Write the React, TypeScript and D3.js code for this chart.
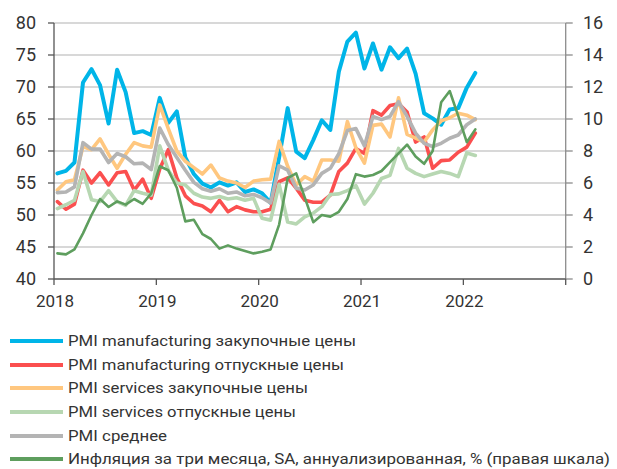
import React from "react";
import * as d3 from "d3";

const mfgInput = [56.5, 56.9, 58.2, 70.7, 72.8, 70.3, 64.3, 72.7, 69.2, 62.8, 63.1, 62.5, 68.3, 64.4, 66.2, 59.0, 56.4, 54.9, 54.3, 55.1, 54.6, 55.1, 53.6, 54.0, 53.4, 51.9, 59.0, 66.7, 59.9, 58.9, 61.7, 64.8, 63.3, 72.4, 77.1, 78.5, 72.9, 76.8, 72.7, 76.2, 74.5, 76.0, 72.1, 65.9, 65.1, 64.1, 66.5, 66.7, 69.9, 72.2];
const mfgOutput = [52.1, 50.9, 51.7, 57.0, 55.0, 56.6, 54.7, 56.6, 56.8, 53.9, 55.6, 52.6, 57.2, 60.2, 55.8, 53.0, 51.8, 51.4, 50.5, 52.3, 50.5, 51.3, 50.8, 50.5, 50.5, 50.9, 55.2, 55.8, 54.2, 52.3, 52.0, 52.0, 53.1, 56.8, 58.1, 60.4, 59.6, 66.3, 65.6, 67.1, 67.4, 66.1, 61.4, 62.2, 57.3, 58.5, 58.6, 59.8, 60.6, 62.8];
const svcInput = [53.9, 55.2, 55.5, 60.7, 60.2, 61.9, 59.5, 57.3, 59.5, 61.3, 60.8, 60.6, 67.2, 63.5, 60.0, 58.4, 57.4, 56.4, 57.8, 55.8, 55.3, 55.0, 54.3, 55.3, 55.5, 55.6, 61.5, 57.6, 54.7, 56.0, 55.3, 58.6, 58.6, 58.4, 64.6, 60.5, 58.1, 64.0, 64.2, 62.2, 68.3, 62.6, 62.0, 61.4, 63.3, 64.7, 65.2, 65.9, 65.6, 64.9];
const svcOutput = [51.0, 51.6, 52.3, 56.8, 52.4, 52.1, 53.8, 52.1, 51.5, 53.8, 53.4, 53.1, 60.8, 57.0, 55.0, 54.7, 53.4, 52.8, 52.6, 52.9, 52.5, 52.7, 52.3, 52.6, 49.5, 49.2, 54.8, 48.9, 48.6, 49.7, 50.3, 51.3, 53.2, 53.3, 53.8, 54.6, 51.7, 53.4, 55.7, 56.2, 60.4, 57.3, 56.5, 56.0, 56.4, 56.8, 56.5, 56.0, 59.7, 59.3];
const pmiAvg = [53.5, 53.6, 54.4, 61.3, 60.3, 60.3, 58.2, 59.6, 59.1, 58.0, 58.1, 57.1, 63.6, 61.0, 59.0, 57.0, 55.1, 54.1, 53.7, 54.1, 53.4, 53.6, 53.0, 53.2, 52.7, 51.9, 57.7, 57.0, 54.2, 53.9, 54.7, 56.5, 57.3, 59.6, 63.2, 63.5, 60.8, 65.4, 64.9, 65.4, 67.7, 65.4, 62.8, 61.2, 60.7, 61.2, 62.0, 62.5, 64.1, 65.0];
const inflation = [1.6, 1.54, 1.85, 2.85, 4.0, 5.0, 4.5, 4.85, 4.65, 5.0, 4.7, 5.35, 7.05, 6.8, 5.7, 3.6, 3.7, 2.8, 2.5, 1.9, 2.1, 1.9, 1.75, 1.6, 1.7, 1.85, 3.4, 6.3, 6.6, 5.1, 3.55, 4.0, 3.9, 4.2, 5.0, 6.55, 6.4, 6.5, 6.75, 7.3, 7.85, 8.4, 7.65, 7.2, 8.0, 11.05, 11.75, 10.2, 8.55, 9.35];

const startYear = 2018;
const yearTicks = [2018, 2019, 2020, 2021, 2022, 2023];
const yearLabels = ["2018", "2019", "2020", "2021", "2022"];
const leftTicks = [40, 45, 50, 55, 60, 65, 70, 75, 80];
const rightTicks = [0, 2, 4, 6, 8, 10, 12, 14, 16];

const seriesNames = [
  "PMI manufacturing закупочные цены",
  "PMI manufacturing отпускные цены",
  "PMI services закупочные цены",
  "PMI services отпускные цены",
  "PMI среднее",
  "Инфляция за три месяца, SA, аннуализированная, % (правая шкала)",
];

const FONT = "Roboto, 'Noto Sans', sans-serif";

export default function App() {
  const W = 617, H = 469;
  const x0 = 54, x1 = 565.7, yTop = 23, yBot = 279;
  const x = d3.scaleLinear().domain([2018, 2023]).range([x0, x1]);
  const yL = d3.scaleLinear().domain([40, 80]).range([yBot, yTop]);
  const yR = d3.scaleLinear().domain([0, 16]).range([yBot, yTop]);
  const t = (i: number) => startYear + (i + 0.4) / 12;

  const lineL = d3.line<number>().x((_, i) => x(t(i))).y((d) => yL(d));
  const lineR = d3.line<number>().x((_, i) => x(t(i))).y((d) => yR(d));

  const series = [
    { data: mfgInput, color: "#00b5e8", w: 4, gen: lineL },
    { data: mfgOutput, color: "#fb4f4f", w: 3.6, gen: lineL },
    { data: svcInput, color: "#ffc77f", w: 3.6, gen: lineL },
    { data: svcOutput, color: "#b7d7b2", w: 3.6, gen: lineL },
    { data: pmiAvg, color: "#b4b4b4", w: 3.6, gen: lineL },
    { data: inflation, color: "#5e9e5e", w: 2.6, gen: lineR },
  ];

  const legendY = [341, 365, 388, 412, 436, 459];
  const legendW = [288, 276, 240, 228, 99, 542];

  return (
    <svg width={W} height={H} style={{ position: "absolute", left: 0, top: 0, background: "#fff" }} fontFamily={FONT}>
      {leftTicks.filter((v) => v > 40).map((v) => (
        <line key={"g" + v} x1={x0} x2={x1} y1={yL(v)} y2={yL(v)} stroke="#cbcbcb" strokeWidth={1.5} />
      ))}
      {series.map((s, k) => (
        <path key={k} d={s.gen(s.data) || ""} fill="none" stroke={s.color} strokeWidth={s.w} strokeLinejoin="round" strokeLinecap="round" />
      ))}
      <line x1={x0} x2={x0} y1={yTop} y2={yBot} stroke="#555" strokeWidth={1.3} />
      {leftTicks.map((v) => (
        <g key={"l" + v}>
          <line x1={x0 - 6} x2={x0} y1={yL(v)} y2={yL(v)} stroke="#555" strokeWidth={1.3} />
          <text x={36} y={yL(v)} dy="0.36em" textAnchor="end" fontSize={18} fill="#333">{v}</text>
        </g>
      ))}
      <line x1={x1} x2={x1} y1={yTop} y2={yBot} stroke="#8c8c8c" strokeWidth={1.3} />
      {rightTicks.map((v) => (
        <g key={"r" + v}>
          <line x1={x1} x2={x1 + 7} y1={yR(v)} y2={yR(v)} stroke="#8c8c8c" strokeWidth={1.3} />
          <text x={583} y={yR(v)} dy="0.36em" textAnchor="start" fontSize={18} fill="#333">{v}</text>
        </g>
      ))}
      <line x1={x0} x2={x1} y1={yBot} y2={yBot} stroke="#555" strokeWidth={1.5} />
      {yearTicks.map((v) => (
        <line key={"t" + v} x1={x(v)} x2={x(v)} y1={yBot} y2={yBot + 6} stroke="#555" strokeWidth={1.3} />
      ))}
      {yearLabels.map((lab, i) => (
        <text key={"y" + lab} x={x(yearTicks[i]) + 1} y={301} dy="0.36em" textAnchor="middle" fontSize={17} fill="#333">{lab}</text>
      ))}
      {seriesNames.map((name, i) => (
        <g key={"lg" + i}>
          <line x1={10} x2={63} y1={legendY[i]} y2={legendY[i]} stroke={series[i].color} strokeWidth={4} />
          <text x={68} y={legendY[i]} dy="0.34em" fontSize={15.5} fill="#333" textLength={legendW[i]} lengthAdjust="spacingAndGlyphs">{name}</text>
        </g>
      ))}
    </svg>
  );
}
